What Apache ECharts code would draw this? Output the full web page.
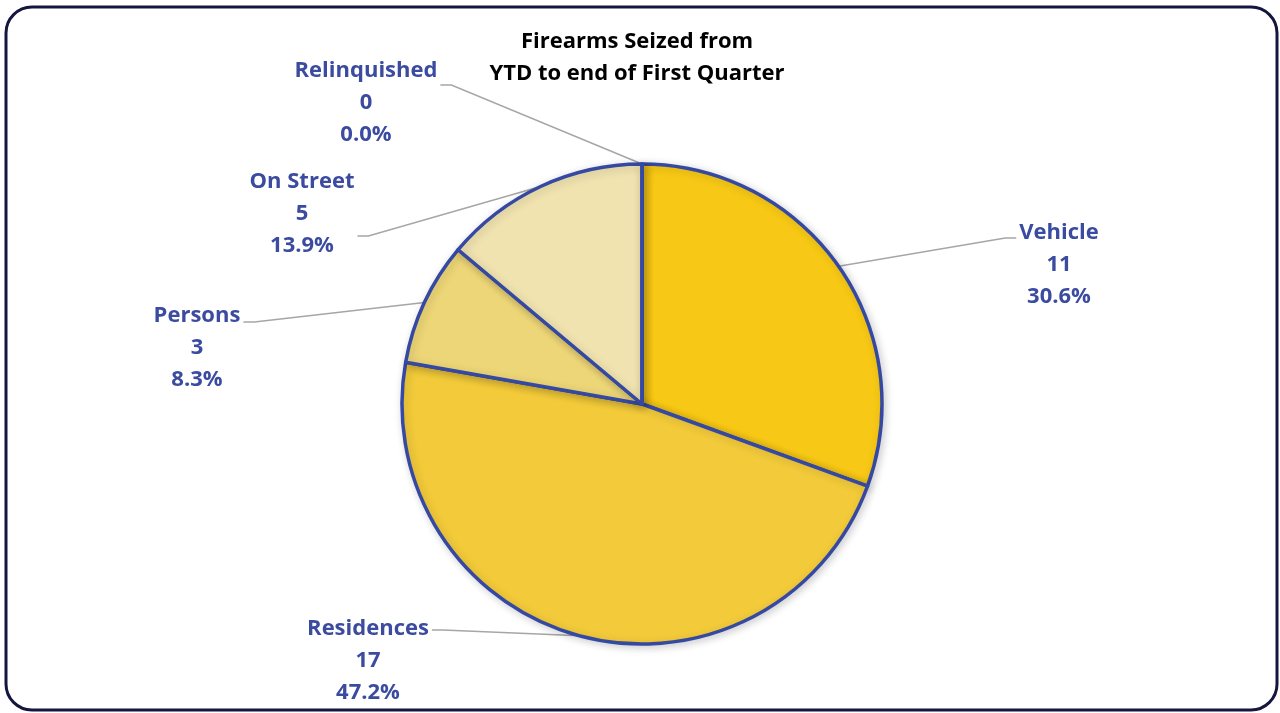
<!DOCTYPE html>
<html>
<head>
<meta charset="utf-8">
<title>Firearms Seized from YTD to end of First Quarter</title>
<script src="https://cdn.jsdelivr.net/npm/echarts@6/dist/echarts.min.js"></script>
<style>
  html, body { margin: 0; padding: 0; background: #ffffff; }
  #chart { width: 1280px; height: 713px; }
</style>
</head>
<body>
<div id="chart"></div>
<script>
// Seizure locations and counts, in clockwise order from 12 o'clock
const categories = ['Vehicle', 'Residences', 'Persons', 'On Street', 'Relinquished'];
const counts = [11, 17, 3, 5, 0];
const sliceColors = ['#F7C815', '#F2CA3A', '#EDD677', '#F0E3B0', '#F3E6C0'];
const titleLines = ['Firearms Seized from', 'YTD to end of First Quarter'];

// Where each callout text block sits (center of the three-line block)
const labelAnchors = [
  [1059, 265],
  [368, 661],
  [197, 348],
  [302, 214],
  [366, 103]
];
// Which side of the text block the leader line meets, and its vertical offset from the block center
const calloutJoins = [
  ['left', -27],
  ['right', -31],
  ['right', -26],
  ['right', 22],
  ['right', -18]
];

const total = counts.reduce((a, b) => a + b, 0);
const pieData = categories.map((name, i) => ({
  name: name,
  value: counts[i],
  itemStyle: { color: sliceColors[i] }
}));

const labelFont = '"Open Sans", Lato, "DejaVu Sans", sans-serif';

const chart = echarts.init(document.getElementById('chart'), null, { renderer: 'canvas' });
chart.setOption({
  backgroundColor: '#ffffff',
  animation: false,
  title: {
    text: titleLines.join('\n'),
    left: 632,
    top: 21,
    textAlign: 'center',
    textStyle: {
      fontFamily: labelFont,
      fontWeight: 'bold',
      fontSize: 22,
      lineHeight: 32,
      color: '#000000'
    }
  },
  graphic: [{
    type: 'rect',
    shape: { x: 6, y: 7, width: 1271, height: 703, r: 26 },
    style: { fill: 'none', stroke: '#14163F', lineWidth: 3 },
    silent: true,
    z: 100
  }],
  series: [{
    type: 'pie',
    center: [642, 404],
    radius: 240,
    startAngle: 90,
    clockwise: true,
    avoidLabelOverlap: false,
    data: pieData,
    itemStyle: {
      borderColor: '#3549A3',
      borderWidth: 3.5,
      shadowColor: 'rgba(0,0,0,0.18)',
      shadowBlur: 8,
      shadowOffsetX: 2,
      shadowOffsetY: 2
    },
    label: {
      show: true,
      position: 'outside',
      fontFamily: labelFont,
      fontWeight: 'bold',
      fontSize: 22,
      lineHeight: 32,
      color: '#3B4BA0',
      align: 'center',
      formatter: function (p) {
        const pct = (p.value / total * 100).toFixed(1);
        return p.name + '\n' + p.value + '\n' + pct + '%';
      }
    },
    labelLine: {
      show: true,
      length: 20,
      length2: 20,
      smooth: false,
      lineStyle: { color: '#A6A6A6', width: 1.5 }
    },
    labelLayout: function (params) {
      const i = params.dataIndex;
      const a = labelAnchors[i];
      const join = calloutJoins[i];
      const halfW = params.labelRect.width / 2;
      const dir = join[0] === 'left' ? -1 : 1;
      const endX = a[0] + dir * (halfW + 3);
      const endY = a[1] + join[1];
      const bendX = endX + dir * 11;
      const edge = params.labelLinePoints ? params.labelLinePoints[0] : [endX, endY];
      return {
        x: a[0],
        y: a[1],
        align: 'center',
        verticalAlign: 'middle',
        hideOverlap: false,
        labelLinePoints: [edge, [bendX, endY], [endX, endY]]
      };
    }
  }]
});
</script>
</body>
</html>
